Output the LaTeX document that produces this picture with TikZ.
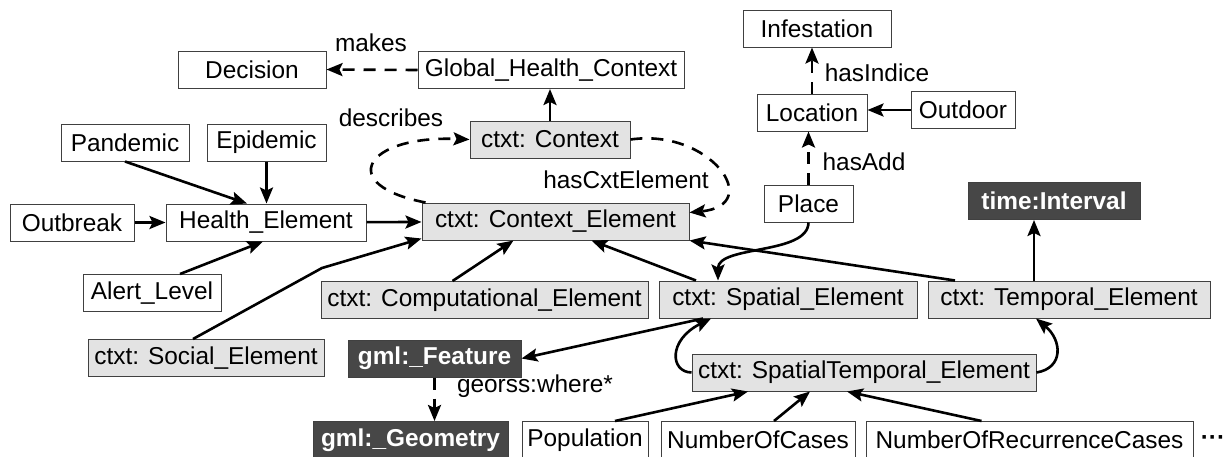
\documentclass[tikz,border=0pt]{standalone}
\usepackage{fontspec}
\setmainfont{Liberation Sans}
\usetikzlibrary{arrows.meta}

\begin{document}
\begin{tikzpicture}[x=0.5pt, y=-0.5pt,
		box/.style={draw=black!75, line width=0.5pt, fill=white, minimum height=18.5pt, inner sep=0pt, font=\fontsize{12.2}{14}\selectfont},
		ctx/.style={box, fill=black!11},
		dark/.style={box, fill=black!72, text=white, font=\fontsize{12.2}{14}\selectfont\bfseries},
		lbl/.style={inner sep=0pt, font=\fontsize{12.2}{14}\selectfont},
		arr/.style={line width=1.3pt, -{Stealth[length=8pt, width=6.5pt, inset=1.5pt]}},
		dsh/.style={arr, dash pattern=on 6pt off 4.5pt}]

		\useasboundingbox (0,0) rectangle (1226,456);

		% Draw the boxes
		\node[box, minimum width=74pt] (decision) at (252,69.5) {Decision};
		\node[box, minimum width=133pt] (ghc) at (551,70) {Global\_Health\_Context};
		\node[box, minimum width=74pt] (infestation) at (817,28.5) {Infestation};
		\node[box, minimum width=55pt] (location) at (812,112.5) {Location};
		\node[box, minimum width=52pt] (outdoor) at (963,110) {Outdoor};
		\node[ctx, minimum width=80pt] (context) at (550,139.5) {ctxt: Context};
		\node[box, minimum width=64pt] (pandemic) at (125,142.5) {Pandemic};
		\node[box, minimum width=59.5pt] (epidemic) at (266.5,142.5) {Epidemic};
		\node[box, minimum width=44.5pt] (place) at (808.5,203.5) {Place};
		\node[dark, minimum width=86pt] (timeint) at (1054,201) {time:Interval};
		\node[box, minimum width=62pt] (outbreak) at (72,222.5) {Outbreak};
		\node[box, minimum width=100pt] (health) at (266,222.5) {Health\_Element};
		\node[ctx, minimum width=133.5pt] (ctxelem) at (555.5,221.5) {ctxt: Context\_Element};
		\node[box, minimum width=69pt] (alert) at (152,293) {Alert\_Level};
		\node[ctx, minimum width=163.5pt] (comput) at (484.5,300) {ctxt: Computational\_Element};
		\node[ctx, minimum width=129pt] (spatial) at (788,299.5) {ctxt: Spatial\_Element};
		\node[ctx, minimum width=141pt] (temporal) at (1069,299.5) {ctxt: Temporal\_Element};
		\node[ctx, minimum width=118pt] (social) at (206,358) {ctxt: Social\_Element};
		\node[dark, minimum width=86.5pt] (feature) at (434.5,358.5) {gml:\_Feature};
		\node[ctx, minimum width=172pt] (stemp) at (864,372.5) {ctxt: SpatialTemporal\_Element};
		\node[dark, minimum width=97.5pt] (geometry) at (410.5,440) {gml:\_Geometry};
		\node[box, minimum width=63pt] (population) at (585,440) {Population};
		\node[box, minimum width=97pt] (numcases) at (758,440) {NumberOfCases};
		\node[box, minimum width=163.5pt] (numrec) at (1029.5,440) {NumberOfRecurrenceCases};
		\node[lbl, font=\fontsize{12.2}{14}\selectfont\bfseries] (more) at (1213,441) {···};

		% Draw the labels
		\node[lbl] (lmakes) at (371,43) {makes};
		\node[lbl] (ldescribes) at (391,118) {describes};
		\node[lbl] (lhascxt) at (626,180) {hasCxtElement};
		\node[lbl] (lhasindice) at (877,73) {hasIndice};
		\node[lbl] (lhasadd) at (864,162) {hasAdd};
		\node[lbl] (lwhere) at (535,386) {georss:where*};

		% Draw the dashed relations
		\draw[dsh] (ghc.west) -- (decision.east);
		\draw[dsh] (location.north) -- (location.north |- infestation.south);
		\draw[dsh] (place.north) -- (place.north |- location.south);
		\draw[dsh] ([xshift=2pt]ctxelem.north west) .. controls (335,185) and (365,135) .. (context.west);
		\draw[dsh] (context.east) .. controls (710,128) and (765,205) .. ([yshift=-5pt]ctxelem.north east);
		\draw[dsh] (feature.south) -- (feature.south |- geometry.north);

		% Draw the health side
		\draw[arr] (context.north) -- (context.north |- ghc.south);
		\draw[arr] (outdoor.west) -- (outdoor.west -| location.east);
		\draw[arr] (outbreak) -- (health);
		\draw[arr] (pandemic.south) -- ([xshift=-9.5pt]health.north);
		\draw[arr] (epidemic.south) -- (epidemic.south |- health.north);
		\draw[arr] ([xshift=14pt]alert.north) -- ([xshift=-1.5pt]health.south);
		\draw[arr] (health) -- (ctxelem);

		% Draw the context elements
		\coordinate (bend) at (322,268);
		\draw[arr] ([xshift=-6.5pt]social.north) -- (bend) -- ([yshift=1pt]ctxelem.south west);
		\draw[arr] ([xshift=-16pt]comput.north) -- ([xshift=-21pt]ctxelem.south);
		\draw[arr] ([xshift=-46pt]spatial.north) -- ([xshift=18pt]ctxelem.south);
		\draw[arr] ([xshift=-57pt]temporal.north) -- (ctxelem.south east);
		\draw[arr] ([xshift=-17.5pt]temporal.north) -- ([xshift=-17.5pt]temporal.north |- timeint.south);
		\draw[arr] (place.south) .. controls (808,255) and (718,245) .. ([xshift=-35pt]spatial.north);
		\draw[arr] ([xshift=-42.5pt]spatial.south) -- (feature.east);

		% Draw the spatial temporal part
		\draw[arr] (stemp.west) .. controls (670,372) and (668,340) .. ([xshift=-38.5pt]spatial.south);
		\draw[arr] (stemp.east) .. controls (1064,368) and (1062,340) .. ([xshift=-16.5pt]temporal.south);
		\draw[arr] ([xshift=15pt]population.north) -- ([xshift=-58pt]stemp.south);
		\draw[arr] ([xshift=8pt]numcases.north) -- ([xshift=-27pt]stemp.south);
		\draw[arr] ([xshift=-24pt]numrec.north) -- ([xshift=-8.5pt]stemp.south);

	\end{tikzpicture}
\end{document}
